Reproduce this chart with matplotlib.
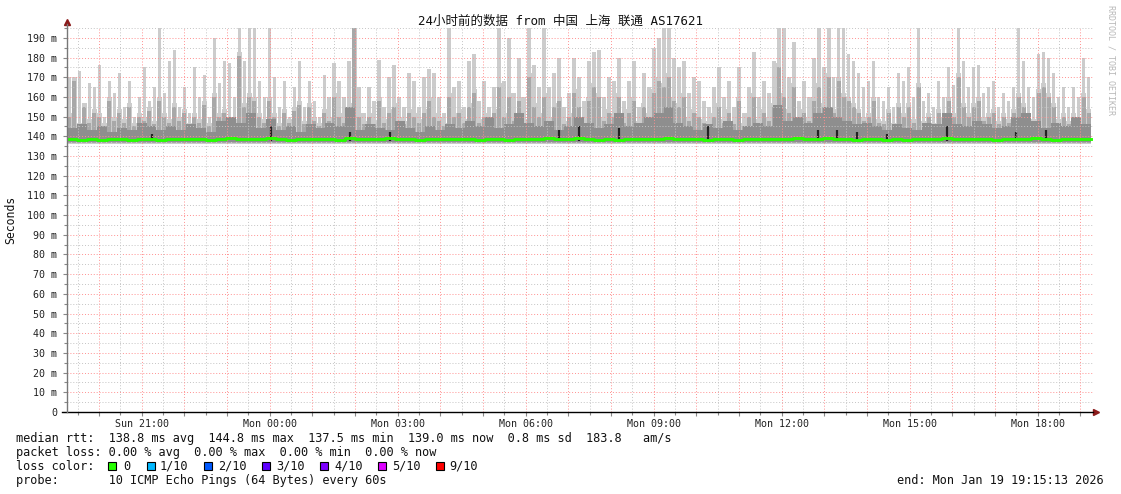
import numpy as np
import matplotlib
matplotlib.use("Agg")
import matplotlib.pyplot as plt
from matplotlib.patches import Rectangle

# ---- data (ms) ----
# 24h window, start Sun 19:15:13, end Mon 19:15:13
span_min = 1440
start_clock = (19, 15, 13)

# top of the light smoke (highest ping), ~7 min bins
ping_max = [
    170, 160, 173, 152, 167, 165, 176, 150, 168, 162,
    172, 155, 168, 150, 160, 175, 158, 165, 195, 162,
    178, 184, 155, 165, 152, 175, 160, 171, 150, 190,
    167, 178, 177, 160, 195, 178, 195, 195, 168, 160,
    195, 170, 155, 168, 150, 165, 178, 155, 168, 158,
    150, 171, 160, 177, 168, 160, 178, 195, 165, 152,
    165, 158, 179, 155, 170, 176, 160, 155, 172, 168,
    155, 170, 174, 172, 160, 152, 195, 165, 168, 155,
    178, 182, 158, 168, 155, 165, 195, 168, 190, 162,
    180, 160, 195, 176, 165, 195, 165, 172, 180, 155,
    162, 180, 170, 158, 178, 183, 184, 160, 170, 168,
    180, 158, 168, 178, 155, 172, 165, 185, 190, 195,
    195, 180, 175, 178, 162, 170, 168, 158, 155, 165,
    175, 160, 168, 155, 175, 152, 165, 183, 160, 168,
    162, 178, 195, 195, 170, 188, 158, 168, 160, 180,
    195, 175, 195, 170, 195, 195, 182, 178, 172, 165,
    168, 178, 160, 158, 165, 155, 172, 168, 175, 160,
    195, 158, 162, 155, 168, 160, 175, 166, 195, 178,
    165, 175, 176, 162, 165, 168, 155, 162, 158, 165,
    195, 178, 165, 160, 182, 183, 180, 172, 160, 165,
    155, 165, 160, 180, 170,
]

# top of the medium smoke
ping_hi = [
    150, 168, 145, 155, 147, 152, 150, 145, 158, 148,
    152, 147, 155, 145, 150, 148, 153, 146, 158, 150,
    147, 155, 148, 152, 145, 150, 147, 156, 145, 160,
    150, 152, 148, 147, 181, 155, 160, 158, 150, 147,
    158, 150, 145, 152, 147, 153, 156, 146, 155, 148,
    145, 152, 148, 160, 150, 147, 155, 195, 150, 146,
    150, 146, 158, 147, 152, 155, 148, 146, 152, 150,
    147, 152, 158, 150, 148, 145, 160, 150, 152, 147,
    155, 162, 147, 150, 146, 152, 165, 150, 160, 148,
    158, 147, 170, 155, 150, 160, 148, 155, 158, 146,
    150, 162, 155, 147, 158, 165, 160, 148, 152, 150,
    160, 147, 152, 158, 146, 155, 150, 162, 168, 165,
    170, 158, 155, 160, 148, 152, 150, 147, 146, 150,
    155, 147, 152, 146, 158, 145, 150, 160, 147, 152,
    148, 155, 175, 160, 152, 165, 147, 152, 148, 158,
    165, 155, 170, 152, 168, 160, 158, 155, 152, 148,
    150, 158, 147, 146, 152, 145, 155, 150, 155, 147,
    165, 146, 150, 145, 152, 148, 158, 150, 170, 155,
    150, 155, 158, 148, 150, 152, 146, 150, 147, 152,
    160, 155, 150, 147, 162, 165, 160, 155, 147, 150,
    146, 150, 148, 160, 152,
]

# top of the dark smoke, ~14 min bins
ping_mid = [
    144, 146, 143, 145, 142, 144, 143, 147, 145, 143,
    145, 143, 146, 144, 142, 148, 150, 147, 152, 144,
    149, 143, 145, 142, 146, 144, 147, 145, 155, 143,
    146, 144, 143, 148, 144, 142, 145, 143, 146, 144,
    148, 145, 150, 144, 146, 152, 147, 145, 148, 143,
    145, 150, 147, 144, 146, 152, 145, 147, 150, 152,
    155, 147, 145, 143, 146, 144, 148, 143, 145, 147,
    145, 156, 148, 150, 147, 152, 155, 150, 148, 146,
    147, 145, 143, 146, 144, 143, 147, 146, 152, 146,
    145, 148, 146, 144, 145, 150, 152, 148, 144, 147,
    145, 150, 146,
]

# darkest smoke just around the median
ping_dark = [
    140, 140, 140, 140, 140, 140, 140, 140, 141, 140,
    140, 140, 140, 140, 140, 140, 140, 140, 140, 140,
    145, 140, 140, 140, 140, 140, 140, 140, 142, 140,
    140, 140, 142, 140, 140, 140, 140, 140, 140, 140,
    140, 140, 140, 140, 140, 140, 140, 140, 140, 143,
    140, 145, 140, 140, 140, 144, 140, 140, 140, 140,
    140, 140, 140, 140, 145, 140, 140, 140, 140, 140,
    140, 140, 140, 140, 140, 143, 140, 143, 140, 142,
    140, 140, 141, 140, 140, 140, 140, 140, 145, 140,
    140, 140, 140, 140, 140, 142, 140, 140, 143, 140,
    140, 140, 140,
]

# median rtt
median_rtt = [
    138.6, 138.2, 138.5, 138.3, 138.7, 138.4, 138.2, 138.6, 138.5, 138.3,
    138.5, 138.8, 138.4, 138.6, 138.2, 138.5, 139.2, 138.6, 138.4, 138.7,
    139.0, 138.5, 138.3, 138.6, 138.4, 138.7, 138.5, 138.2, 138.9, 138.5,
    138.6, 138.4, 139.3, 138.5, 138.7, 138.3, 138.6, 138.5, 138.4, 138.8,
    138.5, 138.3, 138.6, 138.4, 138.2, 138.5, 138.7, 138.4, 138.9, 138.6,
    138.5, 139.0, 138.4, 138.2, 138.6, 138.3, 138.5, 138.7, 138.4, 138.6,
    139.2, 138.5, 138.7, 138.4, 138.3, 138.6, 138.5, 138.3, 138.6, 138.4,
    138.5, 138.8, 138.4, 138.9, 138.5, 138.7, 139.1, 138.5, 138.6, 138.3,
    138.4, 138.6, 138.3, 138.5, 138.2, 138.4, 138.7, 138.5, 139.0, 138.4,
    138.6, 138.4, 138.5, 138.3, 138.6, 138.8, 138.4, 139.2, 138.5, 138.3,
    138.6, 138.4, 138.8,
]
ping_floor = [136.3, 136.8, 137.2, 137.6]  # lower edge of each smoke band

rtt_stats = ["138.8", "144.8", "137.5", "139.0"]
rtt_sd = "0.8"
rtt_ams = "183.8"
loss_stats = ["0.00", "0.00", "0.00", "0.00"]
loss_labels = ["0", "1/10", "2/10", "3/10", "4/10", "5/10", "9/10"]
loss_colors = ["#26ff00", "#00b8ff", "#0059ff", "#5e00ff", "#7e00ff", "#dd00ff", "#ff0000"]
tick_labels = ["Sun 21:00", "Mon 00:00", "Mon 03:00", "Mon 06:00",
               "Mon 09:00", "Mon 12:00", "Mon 15:00", "Mon 18:00"]

title = "24小时前的数据 from 中国 上海 联通 AS17621"
end_text = "end: Mon Jan 19 19:15:13 2026"

MONO = "DejaVu Sans Mono"
W, H = 1121, 494

fig = plt.figure(figsize=(W / 100, H / 100), dpi=100)
ax = fig.add_axes([67 / W, 1 - 412 / H, 1026 / W, 384 / H])
ax.set_xlim(0, span_min * 1026 / 1024)
ax.set_ylim(0, 195)


def steps(vals):
    v = np.asarray(vals, float)
    edges = np.linspace(0, span_min, len(v) + 1)
    return edges, np.append(v, v[-1])


def centers(vals):
    n = len(vals)
    w = span_min / n
    return (np.arange(n) + 0.5) * w, w


# smoke: solid body up to the medium level, spiky light tops
e, v = steps(ping_hi)
ax.fill_between(e, ping_floor[0], v + 2, step="post", color="#cccccc", lw=0, zorder=1)
xc, w = centers(ping_max)
ax.bar(xc, np.asarray(ping_max) - ping_floor[0], width=w * 0.7, bottom=ping_floor[0],
       color="#cccccc", lw=0, zorder=1)
ax.bar(xc, np.asarray(ping_hi) - ping_floor[1], width=w * 0.8, bottom=ping_floor[1],
       color="#a8a8a8", lw=0, zorder=2)
e, v = steps(ping_mid)
ax.fill_between(e, ping_floor[2], v, step="post", color="#8e8e8e", lw=0, zorder=3)
xc, w = centers(ping_dark)
dark = np.asarray(ping_dark, float)
spike = dark > 140
ax.vlines(xc[spike], ping_floor[3], dark[spike], color="#222222", lw=1.6, zorder=4)

# grid (rrdtool draws it over the smoke)
off = (60 - start_clock[1]) - start_clock[2] / 60.0   # first full hour
hours = off + 60 * np.arange(24)
halves = hours - 30
halves = np.append(halves, hours[-1] + 30)
halves = halves[(halves > 0) & (halves < ax.get_xlim()[1])]
for y in range(5, 196, 5):
    c = "#ff9090" if y % 10 == 0 else "#c4c4c4"
    ax.axhline(y, color=c, lw=0.7, ls=(0, (1, 2)), zorder=5)
for x in halves:
    ax.axvline(x, color="#c4c4c4", lw=0.7, ls=(0, (1, 2)), zorder=5)
for x in hours:
    ax.axvline(x, color="#ff9090", lw=0.7, ls=(0, (1, 2)), zorder=5)

# median line
e, v = steps(median_rtt)
ax.step(e, v, where="post", color=loss_colors[0], lw=2.1, zorder=6)

# axes
for s in ax.spines.values():
    s.set_visible(False)
ax.plot([-5 / 1026, 1.0], [0, 0], color="black", lw=1, transform=ax.transAxes, clip_on=False, zorder=7)
ax.plot([0, 0], [0, 1 + 4 / 384], color="#777777", lw=1, transform=ax.transAxes, clip_on=False, zorder=7)
ax.plot([0], [1 + 6 / 384], marker="^", ms=5, color="#8b1a1a", transform=ax.transAxes, clip_on=False)
ax.plot([1 + 3 / 1026], [0], marker=">", ms=5, color="#8b1a1a", transform=ax.transAxes, clip_on=False)

ax.set_yticks(range(0, 191, 10))
ax.set_yticklabels(["0"] + [f"{v} m" for v in range(10, 191, 10)])
ax.set_yticks(range(5, 196, 10), minor=True)
ax.set_xticks(hours)
ax.set_xticklabels([tick_labels[(i - 1) // 3] if i % 3 == 1 else "" for i in range(len(hours))])
ax.set_xticks(halves, minor=True)
ax.tick_params(axis="both", which="both", direction="out", color="#888888", width=0.8)
ax.tick_params(axis="y", which="major", length=3, pad=4, labelsize=7.2)
ax.tick_params(axis="y", which="minor", length=2)
ax.tick_params(axis="x", which="major", length=3, pad=2, labelsize=7.2)
ax.tick_params(axis="x", which="minor", length=2)
for lab in ax.get_xticklabels() + ax.get_yticklabels():
    lab.set_family(MONO)
    lab.set_color("#222222")


def ftext(px, py, s, **kw):
    kw.setdefault("family", MONO)
    kw.setdefault("fontsize", 8.55)
    kw.setdefault("va", "center")
    kw.setdefault("color", "#111111")
    fig.text(px / W, 1 - py / H, s, **kw)


ftext(560, 21, title, family=[MONO, "Noto Sans CJK SC"], fontsize=9, ha="center")
ftext(11, 220, "Seconds", rotation=90, ha="center", fontsize=8.3)
ftext(1111, 60, "RRDTOOL / TOBI OETIKER", rotation=270, ha="center",
      fontsize=6, color="#b8b8b8")

line1 = ("median rtt:  " + "  ".join(f"{v} ms {k}" for v, k in zip(rtt_stats, ["avg", "max", "min", "now"]))
         + f"  {rtt_sd} ms sd  {rtt_ams}   am/s")
line2 = "packet loss: " + "  ".join(f"{v} % {k}" for v, k in zip(loss_stats, ["avg", "max", "min", "now"]))
ftext(16, 438, line1)
ftext(16, 452, line2)
ftext(16, 466, "loss color:")
sq_x = [108, 147, 204, 262, 320, 378, 436]
lab_x = [123, 160, 218, 276, 334, 392, 449]
for sx, lx, lab, col in zip(sq_x, lab_x, loss_labels, loss_colors):
    fig.patches.append(Rectangle((sx / W, 1 - 470 / H), 8 / W, 8 / H, facecolor=col,
                                 edgecolor="black", lw=0.8, transform=fig.transFigure))
    ftext(lx, 466, lab)
ftext(16, 480, "probe:       10 ICMP Echo Pings (64 Bytes) every 60s")
ftext(1104, 480, end_text, ha="right")

fig.savefig("out.png", dpi=100, facecolor="white")
